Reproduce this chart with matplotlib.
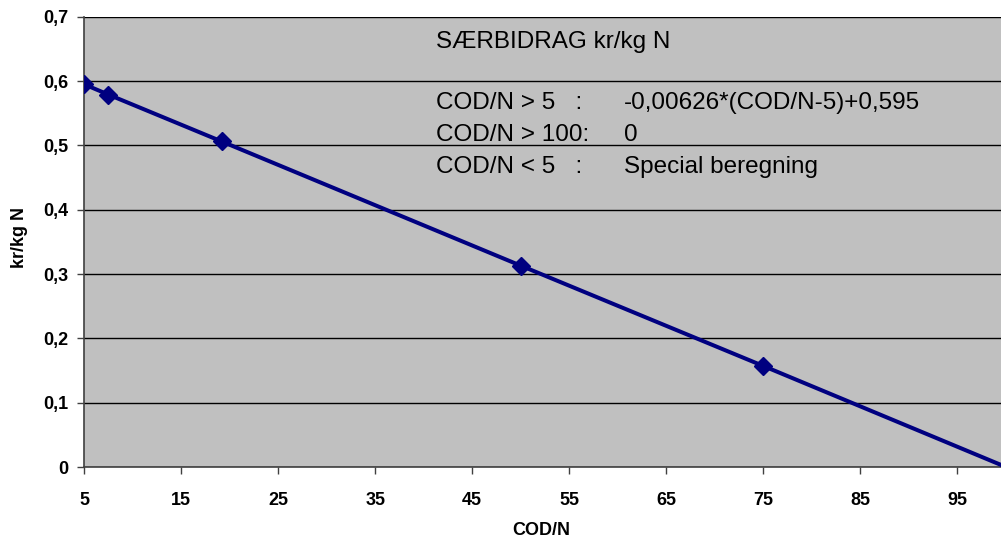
import matplotlib
matplotlib.use("Agg")
import matplotlib.pyplot as plt

plt.rcParams['font.family'] = ['Liberation Sans', 'DejaVu Sans']

# Data
cod_n = [5, 7.5, 19.2, 50, 75, 100]
kr_per_kg = [0.595, 0.579, 0.506, 0.313, 0.157, 0.0]

x_ticks = [5, 15, 25, 35, 45, 55, 65, 75, 85, 95]
x_tick_labels = ['5', '15', '25', '35', '45', '55', '65', '75', '85', '95']
y_ticks = [0, 0.1, 0.2, 0.3, 0.4, 0.5, 0.6, 0.7]
y_tick_labels = ['0', '0,1', '0,2', '0,3', '0,4', '0,5', '0,6', '0,7']

title_text = 'SÆRBIDRAG kr/kg N'
rule_left = ['COD/N > 5   :', 'COD/N > 100:', 'COD/N < 5   :']
rule_right = ['-0,00626*(COD/N-5)+0,595', '0', 'Special beregning']

W, H = 1001, 542
fig = plt.figure(figsize=(W / 100, H / 100), dpi=100)
fig.patch.set_facecolor('white')

left, right, top, bottom = 84, 1006, 16.7, 467
ax = fig.add_axes([left / W, 1 - bottom / H, (right - left) / W, (bottom - top) / H])
ax.set_facecolor('#C0C0C0')

ax.set_xlim(5, 100)
ax.set_ylim(0, 0.7)

ax.set_yticks(y_ticks)
ax.set_yticklabels(y_tick_labels, fontsize=13, fontweight='bold')
ax.set_xticks(x_ticks)
ax.set_xticklabels(x_tick_labels, fontsize=13, fontweight='bold')
ax.tick_params(axis='both', direction='out', length=5, width=1, color='#404040')
ax.tick_params(axis='x', pad=13)
ax.tick_params(axis='y', pad=6)

ax.grid(axis='y', color='black', linewidth=1)
ax.set_axisbelow(True)

for s in ['top', 'right']:
    ax.spines[s].set_visible(False)
for s in ['left', 'bottom']:
    ax.spines[s].set_color('#404040')
    ax.spines[s].set_linewidth(1.2)

ax.plot(cod_n, kr_per_kg, color='#000080', linewidth=2.9,
        marker='D', markersize=9, markevery=list(range(len(cod_n) - 1)),
        clip_on=True, zorder=3)

ax.set_xlabel('COD/N', fontsize=13, fontweight='bold')
ax.set_ylabel('kr/kg N', fontsize=13, fontweight='bold')
ax.xaxis.set_label_coords((541 - left) / (right - left), (bottom - 522) / (bottom - top))
ax.yaxis.set_label_coords((28 - left) / (right - left), (bottom - 238) / (bottom - top))

def fx(px):
    return px / W

def fy(py):
    return 1 - py / H

fig.text(fx(436), fy(42), title_text, fontsize=17.5, va='center', ha='left')
row_y = [103, 135, 167]
for yy, l, r in zip(row_y, rule_left, rule_right):
    fig.text(fx(436), fy(yy), l, fontsize=17.5, va='center', ha='left')
    fig.text(fx(624), fy(yy), r, fontsize=17.5, va='center', ha='left')

fig.savefig('out.png', dpi=100)
